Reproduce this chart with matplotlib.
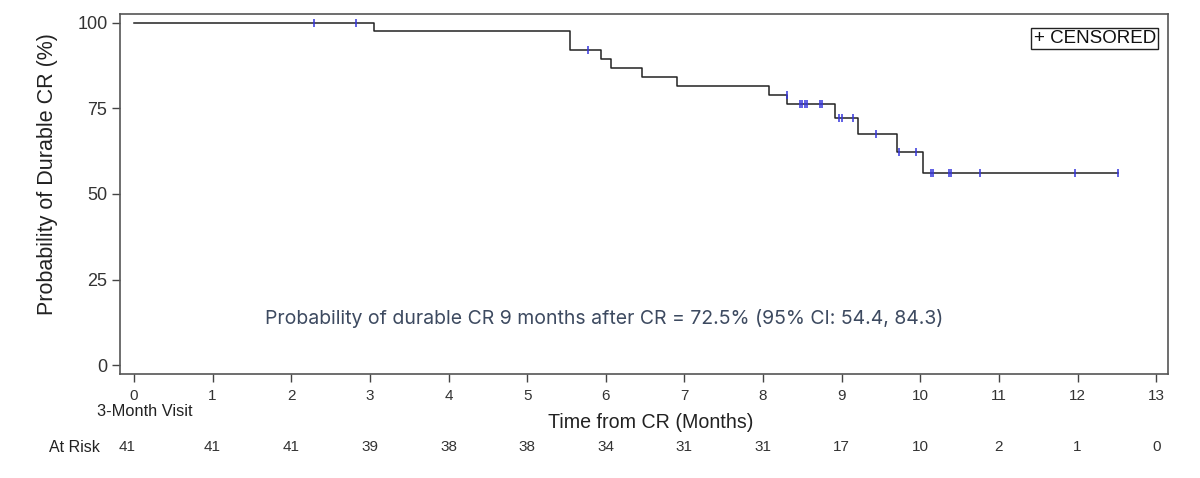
import matplotlib
matplotlib.use('Agg')
import matplotlib.pyplot as plt
import matplotlib.transforms as mtransforms

plt.rcParams['font.family'] = ['Liberation Sans', 'DejaVu Sans']

# step curve: times where the curve drops, and level after each drop
event_times = [3.05, 5.55, 5.94, 6.07, 6.46, 6.90, 8.07, 8.31, 8.92, 9.21, 9.71, 10.03]
levels = [100, 97.6, 92.1, 89.4, 86.7, 84.1, 81.6, 78.9, 76.3, 72.1, 67.4, 62.4, 56.0]

# censored times
censor_times = [2.29, 2.82, 5.77, 8.30, 8.47, 8.50, 8.53, 8.56, 8.72, 8.75,
                8.96, 9.01, 9.15, 9.44, 9.73, 9.94, 10.14, 10.16, 10.37, 10.39,
                10.76, 11.97, 12.51]
last_time = 12.51

risk_months = list(range(14))
at_risk = [41, 41, 41, 39, 38, 38, 34, 31, 31, 17, 10, 2, 1, 0]


def level_at(t):
    lv = levels[0]
    for et, l in zip(event_times, levels[1:]):
        if t >= et:
            lv = l
    return lv


fig = plt.figure(figsize=(12, 4.78), dpi=100)
ax = fig.add_axes([0.1, 0.2176, 0.8733, 0.7531])

xs = [0] + event_times + [last_time]
ys = levels + [levels[-1]]
ax.step(xs, ys, where='post', color='#222222', lw=1.1)

cy = [level_at(t) for t in censor_times]
ax.plot(censor_times, cy, ls='none', marker='|', color='#3535dd',
        markersize=6, mew=1.1)

ax.set_xlim(-0.178, 13.15)
ax.set_ylim(-2.6, 102.6)
ax.set_xticks(risk_months)
ax.set_yticks([0, 25, 50, 75, 100])
ax.tick_params(axis='both', direction='out', length=6, width=1, color='#444444',
               labelcolor='#333333')
ax.tick_params(axis='y', labelsize=13, pad=3)
ax.tick_params(axis='x', labelsize=11, pad=5)
for s in ax.spines.values():
    s.set_color('#555555')
    s.set_linewidth(1.2)

ax.set_ylabel('Probability of Durable CR (%)', fontsize=15.5, color='#222222')
ax.yaxis.set_label_coords(-0.0592, 0.556)

ax.text(5.98, 13.7, 'Probability of durable CR 9 months after CR = 72.5% (95% CI: 54.4, 84.3)',
        ha='center', va='center', fontsize=14, color='#3d4a60', family=['Inter', 'DejaVu Sans'])

ax.text(0.9885, 0.955, '+ CENSORED', transform=ax.transAxes, ha='right', va='top',
        fontsize=13.5, color='#111111',
        bbox=dict(boxstyle='square,pad=0.12', fc='white', ec='#222222', lw=1))

trans = mtransforms.blended_transform_factory(ax.transData, fig.transFigure)
fig.text(-0.47, 1 - 411 / 478, '3-Month Visit', transform=trans, ha='left', va='center',
         fontsize=11.8, color='#222222')
fig.text(6.57, 1 - 422 / 478, 'Time from CR (Months)', transform=trans, ha='center',
         va='center', fontsize=14.1, color='#222222')
fig.text(-0.43, 1 - 447 / 478, 'At Risk', transform=trans, ha='right', va='center',
         fontsize=11.5, color='#222222')
for m, n in zip(risk_months, at_risk):
    xpos = m - 0.09 if m == 0 else m
    fig.text(xpos, 1 - 447 / 478, str(n), transform=trans, ha='center', va='center',
             fontsize=11, color='#333333')

fig.savefig('out.png', dpi=100, facecolor='white')
